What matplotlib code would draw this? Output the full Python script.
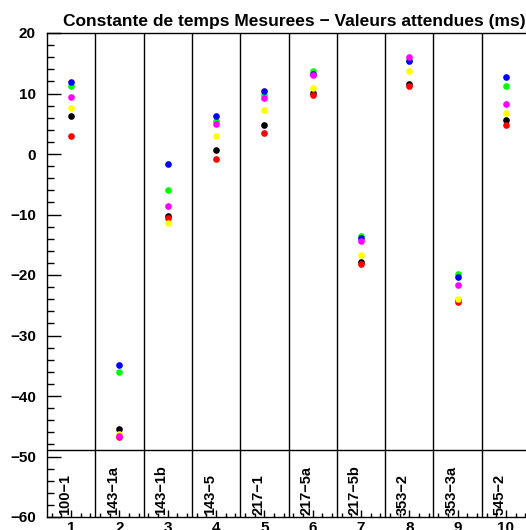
import matplotlib
matplotlib.use("Agg")
import matplotlib.pyplot as plt
from matplotlib.ticker import MultipleLocator

plt.rcParams['font.family'] = ['Liberation Sans', 'DejaVu Sans']
plt.rcParams['font.weight'] = 'bold'

categories = ["100\u22121", "143\u22121a", "143\u22121b", "143\u22125", "217\u22121",
              "217\u22125a", "217\u22125b", "353\u22122", "353\u22123a", "545\u22122"]
positions = list(range(1, 11))

series_colors = ["black", "red", "#00ff00", "blue", "yellow", "magenta"]
black_vals = [6.3, -45.45, -10.3, 0.66, 4.85, 10.1, -17.9, 11.5, -24.2, 5.6]
red_vals = [3.0, -46.8, -10.5, -0.77, 3.4, 9.8, -18.1, 11.2, -24.5, 4.8]
green_vals = [11.3, -36.0, -5.9, 5.5, 9.8, 13.8, -13.55, 15.6, -19.8, 11.2]
blue_vals = [11.9, -34.9, -1.65, 6.3, 10.47, 13.3, -13.9, 15.4, -20.3, 12.7]
yellow_vals = [7.55, -46.3, -11.4, 2.9, 7.2, 10.9, -16.7, 13.8, -24.0, 6.8]
magenta_vals = [9.5, -46.6, -8.6, 5.0, 9.2, 13.1, -14.3, 16.0, -21.6, 8.2]
all_series = [black_vals, red_vals, green_vals, blue_vals, yellow_vals, magenta_vals]

title = "Constante de temps Mesurees \u2212 Valeurs attendues (ms)"
ymin, ymax = -60, 20
label_line = -49

fig = plt.figure(figsize=(5.26, 5.30), dpi=100)
ax = fig.add_axes([47/526, 1-517/530, 483/526, 484/530])
ax.set_xlim(0.5, 10.5)
ax.set_ylim(ymin, ymax)

for vals, col in zip(all_series, series_colors):
    ax.plot(positions, vals, 'o', color=col, markersize=4.8, markeredgewidth=0, zorder=3)

for p in positions[:-1]:
    ax.axvline(p + 0.5, color='black', lw=1.0, zorder=1)
ax.axhline(label_line, color='black', lw=1.0, zorder=1)

for p, lab in zip(positions, categories):
    ax.text(p - 0.13, ymin + 0.3, lab, rotation=90, ha='center', va='bottom',
            fontsize=10.5, fontweight='bold')

ax.set_title(title, fontsize=12.5, fontweight='bold', pad=5, x=0.513)

ax.yaxis.set_major_locator(MultipleLocator(10))
ax.yaxis.set_minor_locator(MultipleLocator(2))
ax.set_xticks(positions)
ax.set_xticklabels([str(p) for p in positions])
ax.xaxis.set_minor_locator(MultipleLocator(0.2))
ax.tick_params(axis='both', which='major', direction='in', length=10, width=1,
               labelsize=11, top=False, right=False)
ax.tick_params(axis='both', which='minor', direction='in', length=5, width=1,
               top=False, right=False)
ax.tick_params(axis='x', which='major', length=5, pad=3)
ax.tick_params(axis='x', which='minor', length=3)
ax.tick_params(axis='y', which='major', pad=8)
for lbl in ax.get_xticklabels() + ax.get_yticklabels():
    lbl.set_fontweight('bold')
for s in ax.spines.values():
    s.set_linewidth(1.0)

fig.savefig("out.png", dpi=100)
